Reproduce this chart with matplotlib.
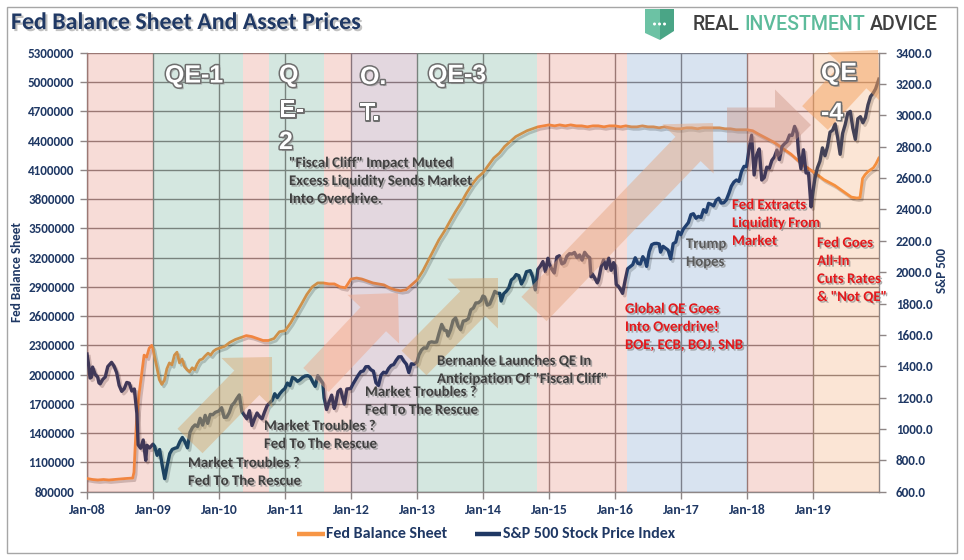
import matplotlib
matplotlib.use("Agg")
import numpy as np
import pandas as pd
import matplotlib.pyplot as plt
import matplotlib.dates as mdates
import matplotlib.patheffects as pe
from matplotlib import font_manager as fm
from matplotlib.patches import FancyArrow, Polygon, Rectangle, Circle
from matplotlib.lines import Line2D
from matplotlib.transforms import IdentityTransform
from matplotlib.ticker import FuncFormatter

# ---------------- DATA ----------------
fed_dates_early = ["2008-01-02", "2008-02-01", "2008-03-01", "2008-04-01", "2008-05-01", "2008-06-01",
                   "2008-07-01", "2008-08-01", "2008-09-10", "2008-09-17", "2008-09-24", "2008-10-01",
                   "2008-10-15", "2008-10-29", "2008-11-12", "2008-11-26", "2008-12-10", "2008-12-24",
                   "2008-12-31", "2009-01-07", "2009-01-21", "2009-02-04", "2009-02-18", "2009-03-04",
                   "2009-03-18", "2009-04-01", "2009-04-15", "2009-04-29", "2009-05-13", "2009-05-27",
                   "2009-06-10", "2009-06-24", "2009-07-08", "2009-07-22", "2009-08-05", "2009-08-19",
                   "2009-09-02", "2009-09-16", "2009-10-01", "2009-10-15", "2009-11-01", "2009-11-15",
                   "2009-12-01", "2009-12-16"]
fed_vals_early = [935000, 925000, 920000, 925000, 920000, 925000,
                  930000, 935000, 940000, 1000000, 1280000, 1520000,
                  1800000, 2000000, 2200000, 2180000, 2270000, 2300000,
                  2270000, 2200000, 2080000, 1950000, 1900000, 1940000,
                  2060000, 2120000, 2100000, 2200000, 2230000, 2120000,
                  2160000, 2080000, 2050000, 2030000, 2070000, 2050000,
                  2110000, 2150000, 2160000, 2190000, 2220000, 2200000,
                  2240000, 2260000]
# monthly, Jan-2010 .. Dec-2018
fed_monthly_2010_2018 = [
    2270000, 2290000, 2330000, 2360000, 2380000, 2400000, 2390000, 2370000, 2350000, 2350000, 2370000, 2440000,
    2450000, 2530000, 2620000, 2720000, 2820000, 2900000, 2940000, 2940000, 2930000, 2930000, 2900000, 2890000,
    2980000, 2990000, 2980000, 2960000, 2940000, 2930000, 2920000, 2890000, 2870000, 2860000, 2870000, 2920000,
    2970000, 3060000, 3160000, 3270000, 3380000, 3470000, 3570000, 3670000, 3760000, 3860000, 3950000, 4020000,
    4070000, 4150000, 4220000, 4270000, 4340000, 4390000, 4440000, 4470000, 4500000, 4520000, 4540000, 4550000,
    4560000, 4550000, 4560000, 4550000, 4560000, 4550000, 4550000, 4540000, 4550000, 4550000, 4540000, 4550000,
    4550000, 4540000, 4550000, 4540000, 4540000, 4550000, 4540000, 4540000, 4530000, 4540000, 4530000, 4520000,
    4520000, 4530000, 4530000, 4520000, 4530000, 4530000, 4530000, 4530000, 4520000, 4520000, 4510000, 4510000,
    4510000, 4500000, 4470000, 4440000, 4410000, 4380000, 4340000, 4300000, 4260000, 4210000, 4160000, 4120000]
fed_dates_late = ["2019-01-01", "2019-02-01", "2019-03-01", "2019-04-01", "2019-05-01", "2019-06-01",
                  "2019-07-01", "2019-08-01", "2019-09-01", "2019-09-18", "2019-10-02", "2019-10-16",
                  "2019-11-01", "2019-11-15", "2019-12-01", "2019-12-15", "2019-12-31"]
fed_vals_late = [4080000, 4040000, 4000000, 3970000, 3940000, 3900000,
                 3860000, 3820000, 3810000, 3815000, 4010000, 4050000,
                 4080000, 4100000, 4120000, 4160000, 4220000]

sp_dates = [
    "2008-01-01", "2008-01-11", "2008-01-18", "2008-01-25", "2008-02-01", "2008-02-15", "2008-02-29", "2008-03-07",
    "2008-03-14", "2008-03-28", "2008-04-11", "2008-04-25", "2008-05-16", "2008-05-30", "2008-06-13", "2008-06-27",
    "2008-07-11", "2008-07-25", "2008-08-08", "2008-08-22", "2008-09-05", "2008-09-19", "2008-10-03", "2008-10-10",
    "2008-10-24", "2008-11-07", "2008-11-21", "2008-11-28", "2008-12-12", "2008-12-31",
    "2009-01-09", "2009-01-23", "2009-02-06", "2009-02-20", "2009-03-06", "2009-03-20", "2009-04-03", "2009-04-17",
    "2009-05-01", "2009-05-15", "2009-05-29", "2009-06-12", "2009-06-26", "2009-07-10", "2009-07-24", "2009-08-07",
    "2009-08-21", "2009-09-04", "2009-09-18", "2009-10-02", "2009-10-16", "2009-10-30", "2009-11-13", "2009-11-27",
    "2009-12-11", "2009-12-31",
    "2010-01-15", "2010-01-29", "2010-02-12", "2010-02-26", "2010-03-12", "2010-03-26", "2010-04-09", "2010-04-23",
    "2010-05-07", "2010-05-21", "2010-06-04", "2010-06-18", "2010-07-02", "2010-07-16", "2010-07-30", "2010-08-13",
    "2010-08-27", "2010-09-10", "2010-09-24", "2010-10-08", "2010-10-22", "2010-11-05", "2010-11-19", "2010-12-03",
    "2010-12-17", "2010-12-31",
    "2011-01-14", "2011-01-28", "2011-02-11", "2011-02-25", "2011-03-11", "2011-03-25", "2011-04-08", "2011-04-22",
    "2011-05-06", "2011-05-20", "2011-06-03", "2011-06-17", "2011-07-01", "2011-07-15", "2011-07-29", "2011-08-05",
    "2011-08-19", "2011-09-02", "2011-09-16", "2011-09-30", "2011-10-07", "2011-10-21", "2011-11-04", "2011-11-25",
    "2011-12-09", "2011-12-30",
    "2012-01-13", "2012-01-27", "2012-02-10", "2012-02-24", "2012-03-09", "2012-03-23", "2012-04-06", "2012-04-20",
    "2012-05-04", "2012-05-18", "2012-06-01", "2012-06-15", "2012-06-29", "2012-07-13", "2012-07-27", "2012-08-10",
    "2012-08-24", "2012-09-07", "2012-09-21", "2012-10-05", "2012-10-19", "2012-11-02", "2012-11-16", "2012-11-30",
    "2012-12-14", "2012-12-31",
    "2013-01-11", "2013-01-25", "2013-02-08", "2013-02-22", "2013-03-08", "2013-03-22", "2013-04-05", "2013-04-19",
    "2013-05-03", "2013-05-17", "2013-05-31", "2013-06-14", "2013-06-21", "2013-07-05", "2013-07-19", "2013-08-02",
    "2013-08-16", "2013-08-30", "2013-09-13", "2013-09-27", "2013-10-11", "2013-10-25", "2013-11-08", "2013-11-22",
    "2013-12-06", "2013-12-20", "2013-12-31",
    "2014-01-10", "2014-01-24", "2014-02-07", "2014-02-21", "2014-03-07", "2014-03-21", "2014-04-04", "2014-04-11",
    "2014-04-25", "2014-05-09", "2014-05-23", "2014-06-06", "2014-06-20", "2014-07-03", "2014-07-18", "2014-08-01",
    "2014-08-15", "2014-08-29", "2014-09-19", "2014-10-03", "2014-10-17", "2014-10-31", "2014-11-14", "2014-11-28",
    "2014-12-12", "2014-12-26", "2014-12-31",
    "2015-01-16", "2015-01-30", "2015-02-13", "2015-02-27", "2015-03-13", "2015-03-27", "2015-04-10", "2015-04-24",
    "2015-05-08", "2015-05-22", "2015-06-05", "2015-06-19", "2015-07-03", "2015-07-17", "2015-07-31", "2015-08-14",
    "2015-08-21", "2015-08-28", "2015-09-11", "2015-09-25", "2015-10-02", "2015-10-16", "2015-10-30", "2015-11-13",
    "2015-11-27", "2015-12-11", "2015-12-24", "2015-12-31",
    "2016-01-08", "2016-01-22", "2016-02-05", "2016-02-12", "2016-02-26", "2016-03-11", "2016-03-25", "2016-04-08",
    "2016-04-22", "2016-05-06", "2016-05-20", "2016-06-03", "2016-06-17", "2016-06-24", "2016-07-08", "2016-07-22",
    "2016-08-05", "2016-08-19", "2016-09-02", "2016-09-09", "2016-09-23", "2016-10-07", "2016-10-21", "2016-11-04",
    "2016-11-18", "2016-12-02", "2016-12-16", "2016-12-30",
    "2017-01-13", "2017-01-27", "2017-02-10", "2017-02-24", "2017-03-10", "2017-03-24", "2017-04-07", "2017-04-21",
    "2017-05-05", "2017-05-19", "2017-06-02", "2017-06-16", "2017-06-30", "2017-07-14", "2017-07-28", "2017-08-11",
    "2017-08-25", "2017-09-08", "2017-09-22", "2017-10-06", "2017-10-20", "2017-11-03", "2017-11-17", "2017-12-01",
    "2017-12-15", "2017-12-29",
    "2018-01-12", "2018-01-26", "2018-02-09", "2018-02-23", "2018-03-09", "2018-03-23", "2018-04-06", "2018-04-20",
    "2018-05-04", "2018-05-18", "2018-06-01", "2018-06-15", "2018-06-29", "2018-07-13", "2018-07-27", "2018-08-10",
    "2018-08-24", "2018-09-07", "2018-09-21", "2018-10-05", "2018-10-12", "2018-10-26", "2018-11-09", "2018-11-23",
    "2018-12-07", "2018-12-21", "2018-12-31",
    "2019-01-11", "2019-01-25", "2019-02-08", "2019-02-22", "2019-03-08", "2019-03-22", "2019-04-05", "2019-04-19",
    "2019-05-03", "2019-05-17", "2019-05-31", "2019-06-14", "2019-06-28", "2019-07-12", "2019-07-26", "2019-08-09",
    "2019-08-23", "2019-09-06", "2019-09-20", "2019-10-04", "2019-10-18", "2019-11-01", "2019-11-15", "2019-11-29",
    "2019-12-13", "2019-12-31"]
sp_values = [
    1478, 1401, 1325, 1330, 1395, 1349, 1331, 1294,
    1288, 1316, 1332, 1398, 1425, 1400, 1360, 1278,
    1240, 1257, 1297, 1292, 1242, 1255, 1099, 899,
    877, 930, 800, 896, 879, 903,
    890, 832, 869, 770, 683, 768, 843, 870,
    877, 882, 919, 946, 918, 880, 979, 1010,
    1026, 1016, 1068, 1025, 1087, 1036, 1093, 1091,
    1106, 1115,
    1136, 1074, 1075, 1104, 1150, 1167, 1194, 1217,
    1111, 1087, 1065, 1117, 1022, 1065, 1102, 1079,
    1065, 1110, 1149, 1166, 1183, 1225, 1200, 1225,
    1244, 1258,
    1293, 1276, 1329, 1320, 1304, 1314, 1329, 1338,
    1340, 1333, 1300, 1272, 1340, 1316, 1292, 1199,
    1124, 1174, 1216, 1131, 1155, 1238, 1253, 1159,
    1255, 1258,
    1289, 1316, 1343, 1366, 1370, 1397, 1398, 1378,
    1369, 1295, 1278, 1343, 1362, 1357, 1386, 1405,
    1411, 1438, 1460, 1461, 1433, 1414, 1360, 1416,
    1413, 1426,
    1472, 1503, 1518, 1515, 1551, 1556, 1553, 1555,
    1614, 1667, 1631, 1626, 1593, 1632, 1692, 1709,
    1656, 1633, 1688, 1692, 1703, 1760, 1771, 1804,
    1805, 1818, 1848,
    1842, 1790, 1797, 1836, 1878, 1866, 1865, 1816,
    1863, 1878, 1900, 1950, 1963, 1985, 1978, 1925,
    1955, 2003, 2010, 1968, 1887, 2018, 2039, 2068,
    2003, 2089, 2059,
    2019, 1995, 2097, 2105, 2053, 2061, 2102, 2118,
    2116, 2126, 2093, 2110, 2077, 2127, 2104, 2092,
    1971, 1989, 1962, 1932, 1951, 2033, 2079, 2023,
    2090, 2012, 2061, 2044,
    1922, 1907, 1880, 1865, 1948, 2022, 2035, 2048,
    2092, 2057, 2052, 2099, 2071, 2037, 2130, 2175,
    2183, 2184, 2180, 2128, 2165, 2153, 2141, 2085,
    2182, 2192, 2258, 2239,
    2275, 2295, 2316, 2367, 2373, 2344, 2356, 2349,
    2399, 2382, 2439, 2433, 2423, 2459, 2472, 2441,
    2443, 2461, 2502, 2549, 2575, 2588, 2579, 2642,
    2675, 2674,
    2786, 2873, 2620, 2747, 2786, 2588, 2604, 2670,
    2663, 2713, 2735, 2779, 2718, 2801, 2819, 2833,
    2875, 2872, 2930, 2886, 2767, 2659, 2781, 2633,
    2633, 2417, 2507,
    2596, 2665, 2708, 2793, 2743, 2801, 2893, 2905,
    2946, 2860, 2752, 2887, 2942, 3014, 3026, 2919,
    2847, 2979, 2992, 2953, 2986, 3067, 3120, 3141,
    3169, 3231]
assert len(sp_dates) == len(sp_values)
assert len(fed_dates_early) == len(fed_vals_early)
assert len(fed_dates_late) == len(fed_vals_late)

# policy regime shading
band_start = ["2008-01-01", "2009-01-01", "2010-05-15", "2010-10-05", "2011-08-03", "2012-01-01",
              "2013-01-01", "2014-10-28", "2016-03-08", "2018-01-01", "2019-01-01"]
band_end = ["2009-01-01", "2010-05-15", "2010-10-05", "2011-08-03", "2012-01-01", "2013-01-01",
            "2014-10-28", "2016-03-08", "2018-01-01", "2019-01-01", "2020-01-01"]
band_kind = ["pink", "green", "pink", "green", "pink", "purple",
             "green", "pink", "blue", "pink", "peach"]

year_ticks = [f"{y}-01-01" for y in range(2008, 2020)]
left_ticks = list(range(800000, 5300001, 300000))
right_ticks = list(range(600, 3401, 200))

# ---------------- STYLE ----------------
avail = {f.name for f in fm.fontManager.ttflist}
def pick(*names):
    for n in names:
        if n in avail:
            return n
    return "DejaVu Sans"

COND = pick("Carlito", "Liberation Sans Narrow", "Roboto Condensed", "Open Sans Condensed", "Lato", "Liberation Sans")
ARIAL = pick("Liberation Sans", "Arimo", "DejaVu Sans")
LOGO = pick("Roboto", "Lato", "Open Sans", "DejaVu Sans")

plt.rcParams["font.family"] = [COND, "DejaVu Sans"]
plt.rcParams["font.weight"] = "bold"

NAVY = "#1F3864"
ORANGE = "#F79646"
GRID = "#8E8686"
BAND_COL = {"pink": "#D83D26", "green": "#167A58", "purple": "#692653",
            "blue": "#2C69AC", "peach": "#EE741B"}

W, H = 964, 560
fig = plt.figure(figsize=(W / 100, H / 100), dpi=100)
fig.patch.set_facecolor("white")
REN = fig.canvas.get_renderer()

def fx(x):
    return x / W

def fy(y):
    return 1 - y / H

def fit(s, width, family=None, weight="bold"):
    t = fig.text(0, 0, s, fontsize=20, family=family or [COND, "DejaVu Sans"], weight=weight)
    w = t.get_window_extent(REN).width
    t.remove()
    return 20 * width / w

def twidth(s, size, family, weight):
    t = fig.text(0, 0, s, fontsize=size, family=family, weight=weight)
    w = t.get_window_extent(REN).width
    t.remove()
    return w

# ---------------- AXES ----------------
Lp, Rp, Tp, Bp = 87, 879, 52.7, 491.7
ax = fig.add_axes([fx(Lp), fy(Bp), (Rp - Lp) / W, (Bp - Tp) / H])
ax2 = ax.twinx()

fed_x = list(mdates.date2num(pd.to_datetime(fed_dates_early))) + \
        list(mdates.date2num(pd.date_range("2010-01-01", periods=len(fed_monthly_2010_2018), freq="MS"))) + \
        list(mdates.date2num(pd.to_datetime(fed_dates_late)))
fed_v = fed_vals_early + fed_monthly_2010_2018 + fed_vals_late
sp_x = mdates.date2num(pd.to_datetime(sp_dates))

line_shadow = [pe.SimpleLineShadow(offset=(1.5, -1.8), shadow_color="black", alpha=0.2), pe.Normal()]
ax.plot(fed_x, fed_v, color=ORANGE, lw=2.0, zorder=3, path_effects=line_shadow, solid_joinstyle="round")
ax2.plot(sp_x, sp_values, color=NAVY, lw=2.4, zorder=2, path_effects=line_shadow, solid_joinstyle="round")

for s, e, k in zip(band_start, band_end, band_kind):
    ax2.axvspan(mdates.date2num(pd.Timestamp(s)), mdates.date2num(pd.Timestamp(e)),
                facecolor=BAND_COL[k], alpha=0.18, lw=0, zorder=4)

xmin = mdates.date2num(pd.Timestamp("2008-01-01"))
xmax = mdates.date2num(pd.Timestamp("2020-01-01"))
ax.set_xlim(xmin, xmax)
ax.set_ylim(800000, 5300000)
ax2.set_ylim(600, 3400)

ax.set_xticks(mdates.date2num(pd.to_datetime(year_ticks)))
ax.xaxis.set_major_formatter(mdates.DateFormatter("%b-%y"))
ax.set_yticks(left_ticks)
ax.yaxis.set_major_formatter(FuncFormatter(lambda v, p: f"{int(round(v))}"))
ax2.set_yticks(right_ticks)
ax2.yaxis.set_major_formatter(FuncFormatter(lambda v, p: f"{v:.1f}"))

ax.grid(True, color=GRID, lw=1.0)
ax.set_axisbelow(True)

ys = fit("5300000", 46.7)
rs = fit("3400.0", 36.7)
xs = fit("Jan-08", 37)
ax.tick_params(axis="y", direction="out", length=5, width=1, color=GRID, labelsize=ys, labelcolor=NAVY, pad=4)
ax.tick_params(axis="x", direction="out", length=5, width=1, color=GRID, labelsize=xs, labelcolor=NAVY, pad=4)
ax2.tick_params(axis="y", direction="out", length=5, width=1, color=GRID, labelsize=rs, labelcolor=NAVY, pad=7)

for a in (ax, ax2):
    for sp in a.spines.values():
        sp.set_color(GRID)
        sp.set_linewidth(1.0)
    a.spines["top"].set_visible(False)
ax2.spines["left"].set_visible(False)
ax2.spines["bottom"].set_visible(False)
ax.spines["right"].set_visible(False)

# ---------------- decorative arrows (pixel geometry) ----------------
arrow_specs = [
    (190, 441, 272, 357, "#D9A56B", 0.45),
    (316, 380, 398, 293, "#EFA384", 0.45),
    (414, 363, 498, 278, "#D9A56B", 0.45),
    (534, 309, 713, 123, "#E6A47C", 0.45),
    (727, 125, 811, 125, "#C98F7E", 0.40),
    (815, 118, 878, 50, "#F5A25F", 0.50),
]
for x0, y0, x1, y1, c, a in arrow_specs:
    arr = FancyArrow(x0, H - y0, x1 - x0, -(y1 - y0), width=35, head_width=71, head_length=36,
                     length_includes_head=True, transform=IdentityTransform(),
                     facecolor=c, edgecolor="none", alpha=a, zorder=1)
    fig.add_artist(arr)

# ---------------- QE labels ----------------
qe_size = fit("QE-1", 58, [ARIAL])
qe_effects = [pe.SimplePatchShadow(offset=(1.5, -1.5), shadow_rgbFace="#909090", alpha=0.6),
              pe.Stroke(linewidth=2.2, foreground="#6E6E6E"), pe.Normal()]
qe_labels = [("QE-1", 165, 75.5), ("Q", 279, 75), ("E-", 279, 110), ("2", 279, 142),
             ("O.", 360, 77), ("T.", 360, 113), ("QE-3", 428, 75), ("QE", 821, 73), ("-4", 821, 113)]
for s, x, y in qe_labels:
    fig.text(fx(x), fy(y), s, ha="left", va="center", fontsize=qe_size, family=[ARIAL, "DejaVu Sans"],
             weight="bold", color="white", path_effects=qe_effects, zorder=5)

# ---------------- annotations ----------------
ann_size = fit("Market Troubles ?", 111.7)
txt_shadow = [pe.SimplePatchShadow(offset=(1.2, -1.2), shadow_rgbFace="#8C8C8C", alpha=0.7), pe.Normal()]
DARK = "#404040"
RED = "#E3191C"
annotations = [
    (['"Fiscal Cliff" Impact Muted', "Excess Liquidity Sends Market", "Into Overdrive."], 289, 163, DARK),
    (["Market Troubles ?", "Fed To The Rescue"], 188, 463, DARK),
    (["Market Troubles ?", "Fed To The Rescue"], 264, 426, DARK),
    (["Market Troubles ?", "Fed To The Rescue"], 365, 392, DARK),
    (["Bernanke Launches QE In", 'Anticipation Of "Fiscal Cliff"'], 437, 361, DARK),
    (["Trump", "Hopes"], 686, 244, "#5A5A5A"),
    (["Global QE Goes", "Into Overdrive!", "BOE, ECB, BOJ, SNB"], 625, 309, RED),
    (["Fed Extracts", "Liquidity From", "Market"], 732, 205, RED),
    (["Fed Goes", "All-In", "Cuts Rates", '& "Not QE"'], 817, 243, RED),
]
for lines, x, y0, col in annotations:
    for i, s in enumerate(lines):
        fig.text(fx(x), fy(y0 + i * 18.0), s, ha="left", va="center", fontsize=ann_size, color=col,
                 weight="bold", path_effects=txt_shadow, zorder=6)

# ---------------- title & logo ----------------
title = "Fed Balance Sheet And Asset Prices"
fig.text(fx(11), fy(29), title, ha="left", va="baseline", fontsize=fit(title, 350), color=NAVY,
         weight="bold", path_effects=[pe.SimplePatchShadow(offset=(1.5, -1.5), shadow_rgbFace="#9A9A9A", alpha=0.6),
                                      pe.Normal()])

fig.add_artist(Polygon([(fx(645), fy(9)), (fx(660), fy(9)), (fx(660), fy(40)), (fx(645), fy(33))],
                       closed=True, transform=fig.transFigure, facecolor="#6CC2A4", edgecolor="none"))
fig.add_artist(Polygon([(fx(660), fy(9)), (fx(674), fy(9)), (fx(674), fy(31)), (fx(660), fy(40))],
                       closed=True, transform=fig.transFigure, facecolor="#4AA586", edgecolor="none"))
for dx in (654.5, 659.5, 664.5):
    fig.add_artist(Circle((dx, H - 24), 1.5, transform=IdentityTransform(), facecolor="white", edgecolor="none"))

logo_full = "REAL INVESTMENT ADVICE"
LW = "medium"
lsize = fit(logo_full, 245, [LOGO], weight=LW)
w_full = twidth(logo_full, lsize, [LOGO], LW)
off_inv = w_full - twidth("INVESTMENT ADVICE", lsize, [LOGO], LW)
off_adv = w_full - twidth("ADVICE", lsize, [LOGO], LW)
for s, off, col in [("REAL", 0, "#3F3F3F"), ("INVESTMENT", off_inv, "#5DBB9B"), ("ADVICE", off_adv, "#3F3F3F")]:
    fig.text(fx(693 + off), fy(24), s, ha="left", va="center", fontsize=lsize, family=[LOGO, "DejaVu Sans"],
             weight=LW, color=col)

# ---------------- axis titles ----------------
fig.text(fx(16.7), fy(271.7), "Fed Balance Sheet", rotation=90, ha="center", va="center",
         fontsize=fit("Fed Balance Sheet", 100), color=NAVY, weight="bold")
fig.text(fx(941.7), fy(270.7), "S&P 500", rotation=90, ha="center", va="center",
         fontsize=fit("S&P 500", 45), color=NAVY, weight="bold")

# ---------------- legend ----------------
leg_size = (fit("Fed Balance Sheet", 120) + fit("S&P 500 Stock Price Index", 173.6)) / 2
fig.add_artist(Line2D([fx(296.7), fx(324.5)], [fy(534), fy(534)], transform=fig.transFigure,
                      color=ORANGE, lw=3.2, solid_capstyle="butt"))
fig.text(fx(326.5), fy(534), "Fed Balance Sheet", ha="left", va="center", fontsize=leg_size,
         color=NAVY, weight="bold")
fig.add_artist(Line2D([fx(474.7), fx(500.6)], [fy(534), fy(534)], transform=fig.transFigure,
                      color=NAVY, lw=3.2, solid_capstyle="butt"))
fig.text(fx(502.5), fy(534), "S&P 500 Stock Price Index", ha="left", va="center", fontsize=leg_size,
         color=NAVY, weight="bold")

# ---------------- outer border ----------------
fig.add_artist(Rectangle((fx(6.5), fy(553)), (957 - 6.5) / W, (553 - 7) / H, transform=fig.transFigure,
                         fill=False, edgecolor="#A6A6A6", lw=1.0))

fig.savefig("out.png", dpi=100, facecolor="white")
